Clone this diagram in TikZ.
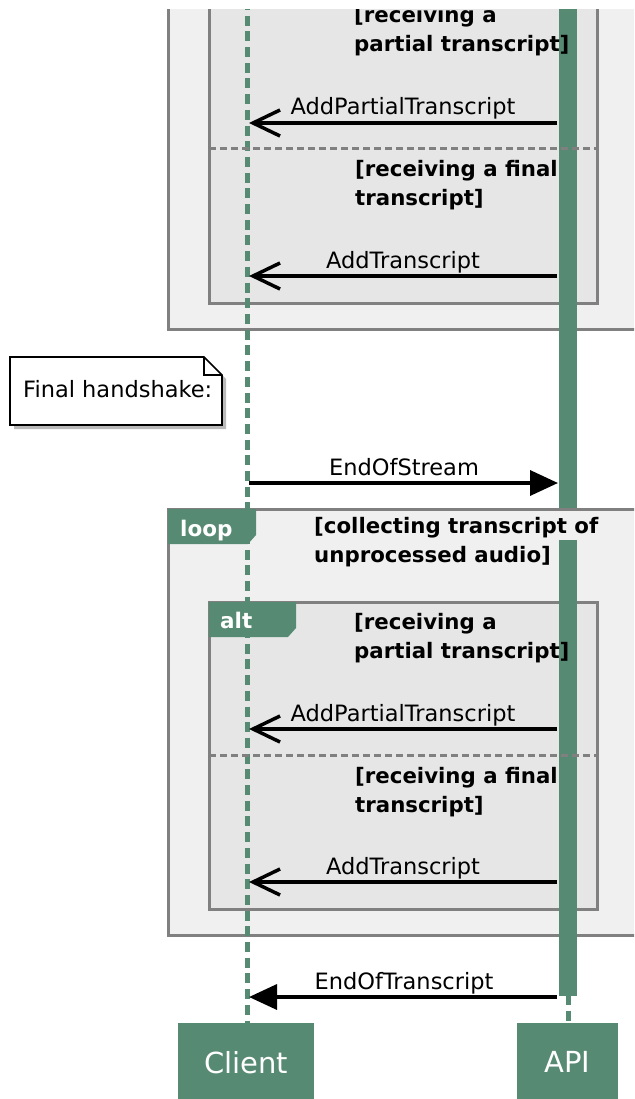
\documentclass[tikz,border=0pt]{standalone}
\usepackage{fontspec}
\setmainfont{DejaVu Sans}
\usetikzlibrary{arrows.meta}
\definecolor{pgreen}{HTML}{578A73}
\definecolor{frameout}{HTML}{F0F0F0}
\definecolor{framein}{HTML}{E6E6E6}
\definecolor{framegray}{HTML}{808080}
\begin{document}
\begin{tikzpicture}[x=1pt,y=-1pt,
  outerframe/.style={fill=frameout,draw=framegray,line width=3pt},
  innerframe/.style={fill=framein,draw=framegray,line width=3pt},
  separator/.style={draw=framegray,line width=3pt,dash pattern=on 7pt off 4pt},
  lifeline/.style={draw=pgreen,line width=5pt,dash pattern=on 10pt off 5.7pt},
  actbar/.style={fill=pgreen,draw=none},
  tabshape/.style={fill=pgreen,draw=none},
  tablabel/.style={text=white,font=\fontsize{21.5}{26}\selectfont\bfseries,anchor=base west,inner sep=0pt},
  cond/.style={font=\fontsize{21.3}{26}\selectfont\bfseries,anchor=base west,inner sep=0pt},
  msg/.style={draw=black,line width=3.5pt},
  openhead/.style={-{Straight Barb[length=27pt,width=26pt]}},
  fullhead/.style={-{Triangle[length=28pt,width=25pt]}},
  msglabel/.style={font=\fontsize{22.5}{27}\selectfont,anchor=base,inner sep=0pt},
  participant/.style={fill=pgreen,draw=none,text=white,font=\fontsize{29}{34}\selectfont,inner sep=0pt},
  notetext/.style={font=\fontsize{22.5}{27}\selectfont,anchor=base west,inner sep=0pt},
  noteshape/.style={fill=white,draw=black,line width=1.6pt,line join=miter},
]
\useasboundingbox (0,0) rectangle (634,1099);
\begin{scope}
\clip (0,10) rectangle (634,1099);

% ---------- frames: upper (partly hidden) block ----------
\draw[outerframe] (168,-200) rectangle (660,329);
\draw[innerframe] (209,-4) rectangle (597,303);
% ---------- frames: lower loop block ----------
\draw[outerframe] (168,509) rectangle (660,935);
\draw[innerframe] (209,602) rectangle (597,909);

% ---------- coordinates on lifelines ----------
\coordinate (clTop) at (247,0);
\coordinate (clBot) at (247,1023);
\coordinate (apiBarEnd) at (568,995);
\coordinate (apiBot) at (568,1023);

% ---------- lifelines ----------
\draw[lifeline] (clTop) -- (clBot);
\draw[lifeline] (apiBarEnd) -- (apiBot);

% ---------- tabs ----------
\fill[tabshape] (168,509) -- (256,509) -- (256,535) -- (248,544) -- (168,544) -- cycle;
\node[tablabel] (looplbl) at (180,536) {loop};
\fill[tabshape] (209,602) -- (296,602) -- (296,628) -- (288,637) -- (209,637) -- cycle;
\node[tablabel] (altlbl) at (220,628) {alt};

% ---------- activation bar ----------
\fill[actbar] (559,0) rectangle (577,508);
\fill[actbar] (559,540) rectangle (577,996);

% ---------- separators ----------
\draw[separator] (209,149) -- (597,149);
\draw[separator] (209,755) -- (597,755);

% ---------- condition texts ----------
\node[cond] (c1a) at (354,23) {[receiving a};
\node[cond] (c1b) at (354,52) {partial transcript]};
\node[cond] (c2a) at (355,177) {[receiving a final};
\node[cond] (c2b) at (355,206) {transcript]};
\node[cond] (c3a) at (314,533) {[collecting transcript of};
\node[cond] (c3b) at (314,562) {unprocessed audio]};
\node[cond] (c4a) at (354,629) {[receiving a};
\node[cond] (c4b) at (354,658) {partial transcript]};
\node[cond] (c5a) at (355,783) {[receiving a final};
\node[cond] (c5b) at (355,812) {transcript]};

% ---------- messages ----------
\coordinate (a1) at (557,123);  \coordinate (k1) at (249,123);
\coordinate (a2) at (557,276);  \coordinate (k2) at (249,276);
\coordinate (k3) at (249,483);  \coordinate (a3) at (558,483);
\coordinate (a4) at (557,729);  \coordinate (k4) at (249,729);
\coordinate (a5) at (557,882);  \coordinate (k5) at (249,882);
\coordinate (a6) at (557,997);  \coordinate (k6) at (249,997);

\draw[msg,openhead] (a1) -- (k1);
\node[msglabel] (m1) at (403,115) {AddPartialTranscript};
\draw[msg,openhead] (a2) -- (k2);
\node[msglabel] (m2) at (403,268) {AddTranscript};
\draw[msg,fullhead] (k3) -- (a3);
\node[msglabel] (m3) at (404,475) {EndOfStream};
\draw[msg,openhead] (a4) -- (k4);
\node[msglabel] (m4) at (403,721) {AddPartialTranscript};
\draw[msg,openhead] (a5) -- (k5);
\node[msglabel] (m5) at (403,874) {AddTranscript};
\draw[msg,fullhead] (a6) -- (k6);
\node[msglabel] (m6) at (404,989) {EndOfTranscript};

% ---------- note ----------
\fill[black!45,opacity=0.6] (14,361) -- (208,361) -- (226,379) -- (226,429) -- (14,429) -- cycle;
\draw[noteshape] (10,357) -- (204,357) -- (222,375) -- (222,425) -- (10,425) -- cycle;
\draw[noteshape,fill=none] (204,357) -- (204,375) -- (222,375);
\node[notetext] (note) at (23,397) {Final handshake:};

% ---------- participants ----------
\node[participant,minimum width=136pt,minimum height=78pt,anchor=north] (client) at (246,1023) {Client};
\node[participant,minimum width=101pt,minimum height=78pt,anchor=north] (api) at (567.5,1023) {API};
\end{scope}
\end{tikzpicture}
\end{document}
